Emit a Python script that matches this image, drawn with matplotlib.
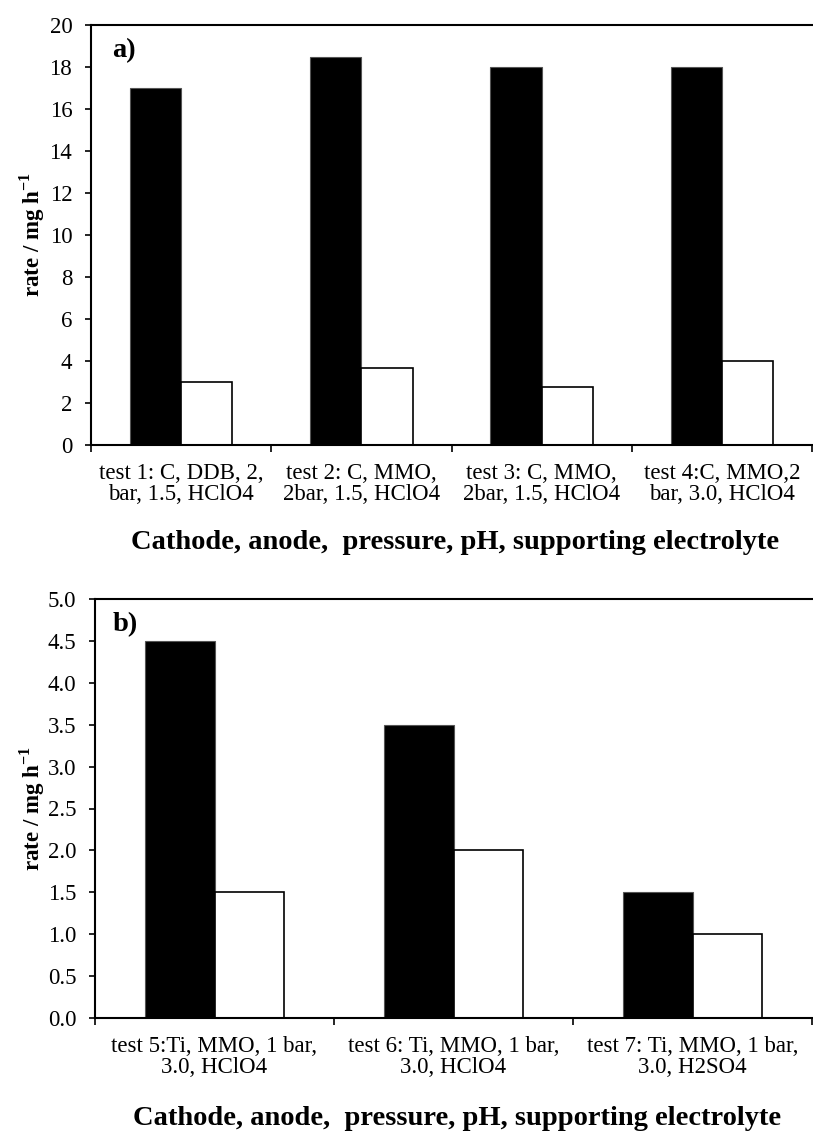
import numpy as np
import matplotlib
matplotlib.use('Agg')
import matplotlib.pyplot as plt

plt.rcParams['font.family'] = ['Liberation Serif', 'DejaVu Serif']
plt.rcParams['mathtext.fontset'] = 'custom'
plt.rcParams['mathtext.bf'] = 'Liberation Serif:bold'
plt.rcParams['mathtext.rm'] = 'Liberation Serif'

# ---- data ----
labels_a = ['test 1: C, DDB, 2,\nbar, 1.5, HClO4',
            'test 2: C, MMO,\n2bar, 1.5, HClO4',
            'test 3: C, MMO,\n2bar, 1.5, HClO4',
            'test 4:C, MMO,2\nbar, 3.0, HClO4']
black_a = [17.0, 18.5, 18.0, 18.0]
white_a = [3.0, 3.65, 2.75, 4.0]

labels_b = ['test 5:Ti, MMO, 1 bar,\n3.0, HClO4',
            'test 6: Ti, MMO, 1 bar,\n3.0, HClO4',
            'test 7: Ti, MMO, 1 bar,\n3.0, H2SO4']
black_b = [4.5, 3.5, 1.5]
white_b = [1.5, 2.0, 1.0]

XLAB = 'Cathode, anode,  pressure, pH, supporting electrolyte'
YLAB = r'rate / mg h$^{\mathbf{-1}}$'

W, H = 813, 1142
fig = plt.figure(figsize=(W / 100, H / 100), dpi=100)


def panel(rect, labels, blk, wht, ymax, step, fmt, tag, bw, ylx, xly, tagpos):
    ax = fig.add_axes(rect)
    x = np.arange(len(labels))
    ax.bar(x - bw / 2, blk, bw, color='black', edgecolor='#555555', lw=0.8, zorder=2)
    ax.bar(x + bw / 2, wht, bw, color='white', edgecolor='black', lw=1.2, zorder=2)
    ax.set_xlim(-0.5, len(labels) - 0.5)
    ax.set_ylim(0, ymax)
    yt = np.arange(0, ymax + step / 2, step)
    ax.set_yticks(yt)
    ax.set_yticklabels([fmt.format(v) for v in yt], fontsize=16.5)
    ax.set_xticks(x)
    ax.set_xticklabels(labels, fontsize=16.5, linespacing=1.02)
    ax.set_xticks(np.arange(len(labels) + 1) - 0.5, minor=True)
    ax.tick_params(axis='x', which='major', length=0, pad=13)
    ax.tick_params(axis='x', which='minor', length=5, width=1.2, direction='out')
    ax.tick_params(axis='y', length=4.5, width=1.2, direction='out', pad=9)
    for s in ['left', 'bottom', 'top']:
        ax.spines[s].set_linewidth(1.5)
    ax.spines['right'].set_visible(False)
    ax.set_ylabel(YLAB, fontsize=16.5, fontweight='bold', va='center')
    ax.yaxis.set_label_coords(ylx, 0.5)
    ax.set_xlabel(XLAB, fontsize=20.5, fontweight='bold', va='center')
    ax.xaxis.set_label_coords(0.505, xly)
    ax.text(tagpos[0], tagpos[1], tag, transform=ax.transAxes, fontsize=20.5,
            fontweight='bold', va='center')
    return ax


panel([91 / W, 1 - 445 / H, 721 / W, 420 / H], labels_a, black_a, white_a,
      20, 2, '{:.0f}', 'a)', 0.285, -0.082, -0.233, (0.029, 0.94))
panel([95 / W, 1 - 1018 / H, 717 / W, 419 / H], labels_b, black_b, white_b,
      5.0, 0.5, '{:.1f}', 'b)', 0.29, -0.087, -0.239, (0.025, 0.938))

fig.savefig('out.png', dpi=100)
